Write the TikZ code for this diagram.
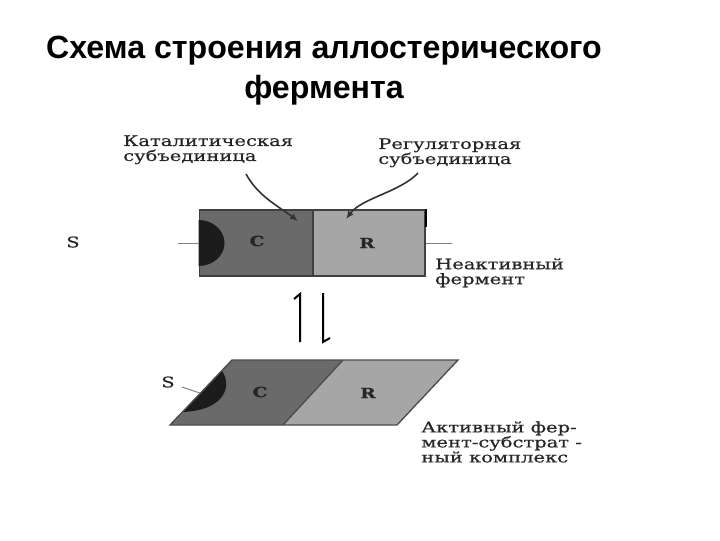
\documentclass[tikz,border=0pt]{standalone}
\usepackage{fontspec}
\usepackage{xcolor}
\setmainfont{Liberation Sans}
\newfontfamily\labelfont[FakeStretch=1.33,FakeBold=0.6]{DejaVu Serif}
\usetikzlibrary{positioning,calc,arrows.meta}
\definecolor{subunitC}{HTML}{6A6A6A}
\definecolor{subunitR}{HTML}{A6A6A6}
\definecolor{siteDark}{HTML}{1C1C1C}
\tikzset{
  titleText/.style={
    font=\fontsize{24.1}{30}\selectfont\bfseries,
    align=center,
    inner sep=0pt
  },
  partLabel/.style={
    font=\labelfont\fontsize{11}{11.25}\selectfont,
    align=left,
    inner sep=0pt,
    text=black!85
  },
  letterLabel/.style={
    font=\labelfont\fontsize{10.5}{12}\selectfont\bfseries,
    inner sep=0pt,
    text=black!85
  },
  subunitBox/.style={
    rectangle,
    draw=black!75,
    line width=1.2pt,
    minimum height=49.5pt,
    inner sep=0pt
  },
  pointerLine/.style={
    -{Latex[length=6pt,width=5pt]},
    line width=1.2pt,
    black!80
  },
  tickLine/.style={
    line width=0.7pt,
    black!50
  },
  flowLine/.style={
    line width=1.5pt,
    black
  }
}

\begin{document}
\begin{tikzpicture}[x=0.75pt,y=-0.75pt]
        \useasboundingbox (0,0) rectangle (720,540);
        % title
        \node[titleText] (title) at (324,71) {Схема строения аллостерического\\фермента};

        % inactive form
        \node[subunitBox, fill=subunitC, minimum width=85pt] (cBox) at (256,243) {};
        \node[subunitBox, fill=subunitR, minimum width=84pt] (rBox) at (369,243) {};
        \fill[siteDark] (cBox.west) ++(0,-23) arc[start angle=-90, end angle=90, x radius=26, y radius=23] -- cycle;
        \draw[line width=1.6pt, black] (rBox.north east) -- ++(0,18);
        \node[letterLabel] (cTop) at (257,241) {C};
        \node[letterLabel] (rTop) at (367,243) {R};
        \node[partLabel] (sTop) at (73,242) {S};
        \draw[tickLine] (178,243) coordinate (sTopEnd) -- (cBox.west);
        \draw[tickLine] (rBox.east) -- (452,243) coordinate (inactiveEnd);

        \node[partLabel, anchor=north west] (catLabel) at (123,135) {Каталитическая\\субъединица};
        \node[partLabel, anchor=north west] (regLabel) at (378,138) {Регуляторная\\субъединица};
        \node[partLabel, anchor=north west] (inactiveLabel) at (435,258) {Неактивный\\фермент};
        \coordinate (catEnd) at (298,221);
        \coordinate (regEnd) at (346,219);
        \draw[pointerLine] (246,174) coordinate (catStart) .. controls (258,196) and (278,206) .. (catEnd);
        \draw[pointerLine] (418,173) coordinate (regStart) .. controls (400,192) and (362,198) .. (regEnd);

        % equilibrium arrows
        \coordinate (upStart) at (300,342);
        \coordinate (upEnd) at (300,294);
        \coordinate (downStart) at (323,293);
        \coordinate (downEnd) at (323,342);
        \draw[flowLine] (upStart) -- (upEnd) -- ++(-6,5);
        \draw[flowLine] (downStart) -- (downEnd) -- ++(7,-4);

        % active form
        \coordinate (lowA) at (170,425);
        \coordinate (lowB) at (232,360);
        \coordinate (lowC) at (343,360);
        \coordinate (lowD) at (283,425);
        \coordinate (lowE) at (458,360);
        \coordinate (lowF) at (397,425);
        \fill[subunitC] (lowA) -- (lowB) -- (lowC) -- (lowD) -- cycle;
        \fill[subunitR] (lowD) -- (lowC) -- (lowE) -- (lowF) -- cycle;
        \fill[siteDark] (222,371) .. controls (232,385) and (226,410) .. (183,412) -- cycle;
        \draw[line width=1pt, black!70] (lowA) -- (lowB) -- (lowE) -- (lowF) -- cycle;
        \draw[line width=1pt, black!70] (lowC) -- (lowD);
        \node[letterLabel] (cLow) at (260,392) {C};
        \node[letterLabel] (rLow) at (368,393) {R};
        \node[partLabel] (sLow) at (168,382) {S};
        \draw[tickLine] (182,387) coordinate (sLowStart) -- (200,393) coordinate (sLowEnd);
        \node[partLabel, anchor=north west] (activeLabel) at (421,421) {Активный фер-\\мент-субстрат -\\ный комплекс};
    \end{tikzpicture}
\end{document}
